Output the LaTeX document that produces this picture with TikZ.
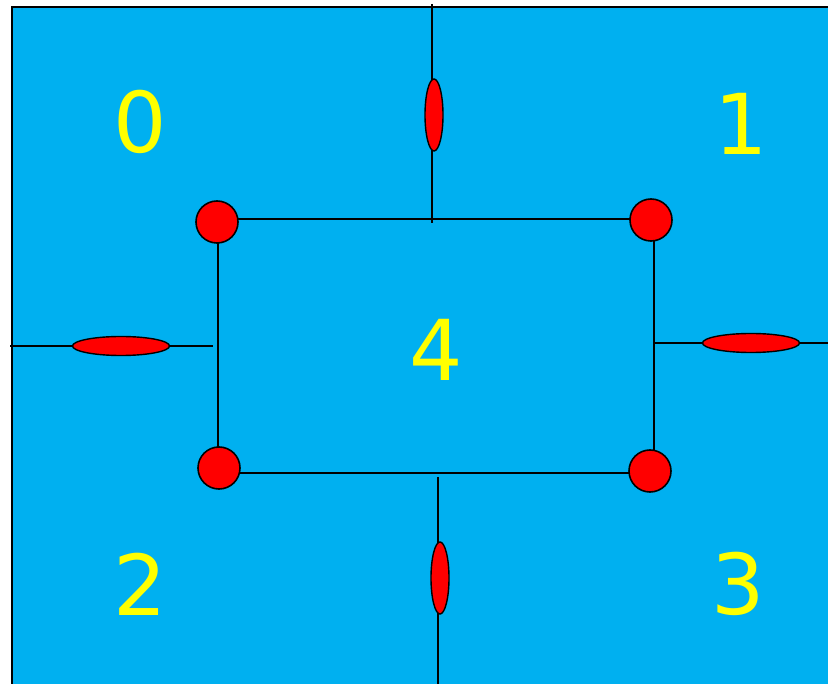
\documentclass[tikz,border=0pt]{standalone}
\usepackage{fontspec}
\setmainfont{DejaVu Sans}
\usetikzlibrary{shapes.geometric}
\definecolor{bgblue}{HTML}{00B0F0}
\definecolor{numyellow}{HTML}{FFFF00}
\tikzset{
  wire/.style={draw=black, line width=1.6pt},
  corner/.style={circle, draw=black, fill=red, line width=1.6pt, minimum size=42pt, inner sep=0pt},
  hell/.style={ellipse, draw=black, fill=red, line width=1.4pt, minimum width=97pt, minimum height=19pt, inner sep=0pt},
  vell/.style={ellipse, draw=black, fill=red, line width=1.4pt, minimum width=18pt, minimum height=72pt, inner sep=0pt},
  num/.style={text=numyellow, font=\fontsize{84}{84}\selectfont, inner sep=0pt}
}
\begin{document}
\begin{tikzpicture}[x=1pt,y=-1pt]
\useasboundingbox (0,0) rectangle (828,684);
\draw[fill=bgblue, line width=1.6pt] (12,7) rectangle (840,700);
% coordinates for free ends
\coordinate (tTop) at (432,4);
\coordinate (tBot) at (432,223);
\coordinate (lL) at (10,346);
\coordinate (lR) at (213,346);
\coordinate (rL) at (654,343);
\coordinate (rR) at (832,343);
\coordinate (bTop) at (438,477);
\coordinate (bBot) at (438,690);
% frame corners (centers)
\coordinate (ctl) at (217,222);
\coordinate (ctr) at (651,220);
\coordinate (cbl) at (219,468);
\coordinate (cbr) at (650,471);
% rectangle edges
\draw[wire] (217,219) -- (651,219);
\draw[wire] (218,222) -- (218,468);
\draw[wire] (654,220) -- (654,471);
\draw[wire] (219,473) -- (650,473);
% cross lines
\draw[wire] (tTop) -- (tBot);
\draw[wire] (lL) -- (lR);
\draw[wire] (rL) -- (rR);
\draw[wire] (bTop) -- (bBot);
% ellipses
\node[vell] (et) at (434,115) {};
\node[vell] (eb) at (440,578) {};
\node[hell] (el) at (121,346) {};
\node[hell] (er) at (751,343) {};
% corner circles
\node[corner] (tl) at (ctl) {};
\node[corner] (tr) at (ctr) {};
\node[corner] (bl) at (cbl) {};
\node[corner] (br) at (cbr) {};
% labels
\node[num] (n0) at (140,122) {0};
\node[num] (n1) at (741,124) {1};
\node[num] (n4) at (436,350) {4};
\node[num] (n2) at (140,584) {2};
\node[num] (n3) at (738,584) {3};
\end{tikzpicture}
\end{document}
